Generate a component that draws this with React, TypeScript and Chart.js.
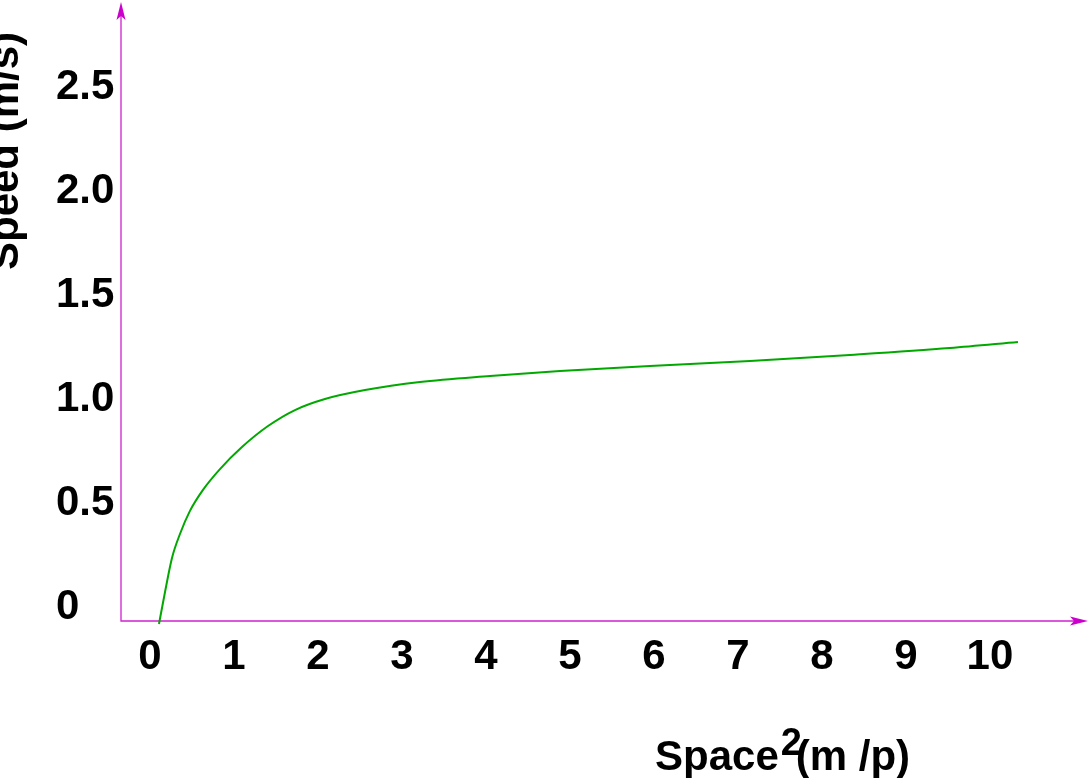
import React, { useEffect, useRef } from "react";
import { Chart, registerables } from "chart.js";

Chart.register(...registerables);

// Curve samples (x = Space², y = Speed)
const spaceValues = [0.107, 0.179, 0.262, 0.357, 0.476, 0.631, 0.833, 1.095, 1.405, 1.726, 2.083, 2.56, 3.214, 4.048, 4.881, 5.952, 7.143, 8.333, 9.524, 10.333];
const speedValues = [-0.082, 0.072, 0.236, 0.351, 0.462, 0.563, 0.663, 0.769, 0.87, 0.947, 1.0, 1.043, 1.082, 1.111, 1.135, 1.159, 1.183, 1.212, 1.245, 1.274];

const xTickValues = [0, 1, 2, 3, 4, 5, 6, 7, 8, 9, 10];
const xTickLabels = ["0", "1", "2", "3", "4", "5", "6", "7", "8", "9", "10"];
const yTickValues = [0, 0.5, 1, 1.5, 2, 2.5];
const yTickLabels = ["0", "0.5", "1.0", "1.5", "2.0", "2.5"];

const xTitleMain = "Space";
const xTitleSup = "2";
const xTitleUnit = "(m /p)";
const yTitle = "Speed (m/s)";

const FONT = '"Liberation Sans", Arial, Helvetica, sans-serif';
const AXIS_COLOR = "#d020d0";
const ARROW_COLOR = "#cc00cc";
const LINE_COLOR = "#00a800";

const decorPlugin = {
  id: "decor",
  beforeDatasetsDraw(chart: any) {
    const ctx = chart.ctx;
    const { left, right, top, bottom } = chart.chartArea;
    ctx.save();
    ctx.strokeStyle = AXIS_COLOR;
    ctx.lineWidth = 1.3;
    ctx.beginPath();
    ctx.moveTo(left, top + 10);
    ctx.lineTo(left, bottom);
    ctx.lineTo(right - 10, bottom);
    ctx.stroke();
    ctx.restore();
  },
  afterDraw(chart: any) {
    const ctx = chart.ctx;
    const { left, right, top, bottom } = chart.chartArea;
    ctx.save();
    // arrowheads
    ctx.fillStyle = ARROW_COLOR;
    ctx.beginPath();
    ctx.moveTo(left, top - 1);
    ctx.lineTo(left - 4.5, top + 17);
    ctx.lineTo(left, top + 13);
    ctx.lineTo(left + 4.5, top + 17);
    ctx.closePath();
    ctx.fill();
    ctx.beginPath();
    ctx.moveTo(right, bottom);
    ctx.lineTo(right - 18, bottom - 4.5);
    ctx.lineTo(right - 14, bottom);
    ctx.lineTo(right - 18, bottom + 4.5);
    ctx.closePath();
    ctx.fill();

    // titles
    ctx.fillStyle = "#000";
    ctx.textBaseline = "alphabetic";
    ctx.textAlign = "left";
    ctx.font = `bold 42px ${FONT}`;
    const x0 = 655;
    ctx.fillText(xTitleMain, x0, 770);
    const w = ctx.measureText(xTitleMain).width;
    ctx.font = `bold 38px ${FONT}`;
    ctx.fillText(xTitleSup, x0 + w + 2, 755);
    ctx.font = `bold 42px ${FONT}`;
    ctx.fillText(xTitleUnit, x0 + w + 17, 770);

    ctx.translate(18, 151);
    ctx.rotate(-Math.PI / 2);
    ctx.textAlign = "center";
    ctx.fillText(yTitle, 0, 0);
    ctx.restore();
  },
};

export default function App() {
  const canvasRef = useRef<HTMLCanvasElement | null>(null);

  useEffect(() => {
    if (!canvasRef.current) return;
    const chart = new Chart(canvasRef.current, {
      type: "line",
      data: {
        datasets: [
          {
            data: spaceValues.map((x, i) => ({ x, y: speedValues[i] })),
            borderColor: LINE_COLOR,
            borderWidth: 2,
            pointRadius: 0,
            fill: false,
            cubicInterpolationMode: "monotone",
            clip: false as any,
          },
        ],
      },
      options: {
        animation: false,
        responsive: false,
        devicePixelRatio: 1,
        layout: { padding: { left: 56, right: 4, top: 3, bottom: 0 } },
        plugins: { legend: { display: false }, tooltip: { enabled: false } },
        scales: {
          x: {
            type: "linear",
            min: -0.345,
            max: 11.167,
            afterBuildTicks: (scale: any) => {
              scale.ticks = xTickValues.map((v) => ({ value: v }));
            },
            afterFit: (scale: any) => {
              scale.height = 157;
              scale.paddingLeft = 0;
              scale.paddingRight = 0;
            },
            grid: { display: false, drawTicks: false },
            border: { display: false },
            ticks: {
              autoSkip: false,
              maxRotation: 0,
              padding: 11,
              color: "#000",
              font: { family: FONT, size: 42, weight: "bold" },
              callback: (v: any) => {
                const i = xTickValues.indexOf(Number(v));
                return i >= 0 ? xTickLabels[i] : "";
              },
            },
          },
          y: {
            type: "linear",
            min: -0.0673,
            max: 2.904,
            afterBuildTicks: (scale: any) => {
              scale.ticks = yTickValues.map((v) => ({ value: v }));
            },
            afterFit: (scale: any) => {
              scale.width = 65;
              scale.paddingTop = 0;
              scale.paddingBottom = 0;
            },
            grid: { display: false, drawTicks: false },
            border: { display: false },
            ticks: {
              autoSkip: false,
              crossAlign: "far",
              padding: 8,
              color: "#000",
              font: { family: FONT, size: 42, weight: "bold" },
              callback: (v: any) => {
                const i = yTickValues.indexOf(Number(v));
                return i >= 0 ? yTickLabels[i] : "";
              },
            },
          },
        },
      },
      plugins: [decorPlugin],
    } as any);
    return () => chart.destroy();
  }, []);

  return (
    <div style={{ position: "fixed", left: 0, top: 0, width: 1092, height: 778, background: "#fff" }}>
      <canvas ref={canvasRef} width={1092} height={778} style={{ display: "block" }} />
    </div>
  );
}
